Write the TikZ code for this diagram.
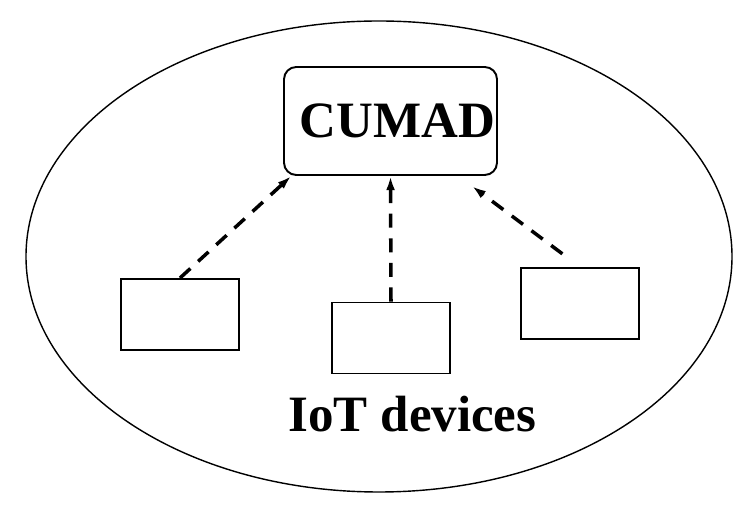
\documentclass[tikz,border=0pt]{standalone}
\usepackage{fontspec}
\setmainfont{Liberation Serif}
\usepackage{tikz}
\usetikzlibrary{arrows.meta, shapes.geometric}

\begin{document}
\begin{tikzpicture}[
    >={Latex[length=8pt,width=5pt]},
    hub/.style={
        rectangle, rounded corners=7pt, draw=black, line width=1.1pt,
        minimum width=4.26cm, minimum height=2.16cm, inner sep=0pt,
        font=\fontsize{29}{35}\selectfont\bfseries
    },
    device/.style={
        rectangle, draw=black, line width=1.1pt,
        minimum width=2.36cm, minimum height=1.42cm, inner sep=0pt
    },
    link/.style={->, line width=2pt, dash pattern=on 8pt off 6pt},
]
\useasboundingbox (0,0) rectangle (15,-10.2);

% Domain
\node[ellipse, draw=black, line width=0.8pt, inner sep=0pt,
      minimum width=14.12cm, minimum height=9.42cm] (domain) at (7.58,-5.13) {};

% Hub
\node[hub] (cumad) at (7.81,-2.42) {\hspace{0.28cm}CUMAD};

% Devices
\node[device] (devleft)  at ( 3.60,-6.29) {};
\node[device] (devmid)   at ( 7.82,-6.76) {};
\node[device] (devright) at (11.60,-6.07) {};

\node[anchor=base, font=\fontsize{29}{35}\selectfont\bfseries] (iot) at (8.25,-8.64) {IoT devices};

% Arrows
\draw[link] (devleft.north) -- (cumad.209.5);
\draw[link] (devmid.north)  -- (cumad.south);
\draw[link, shorten <=0.44cm, shorten >=0.34cm] (devright.north) -- (cumad.321);

\end{tikzpicture}
\end{document}
